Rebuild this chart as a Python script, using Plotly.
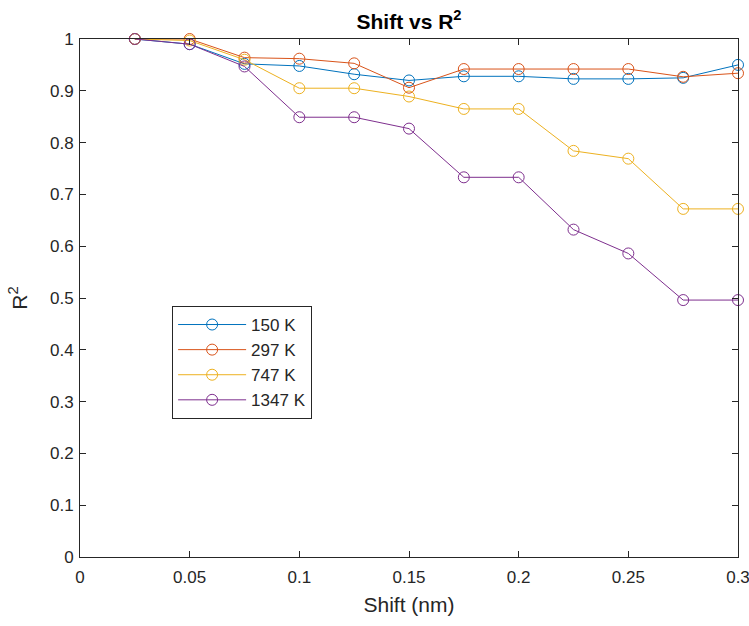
import plotly.graph_objects as go

shift = [0.025, 0.05, 0.075, 0.1, 0.125, 0.15, 0.175, 0.2, 0.225, 0.25, 0.275, 0.3]
r2_150 = [1.0, 0.99, 0.952, 0.948, 0.932, 0.92, 0.928, 0.928, 0.923, 0.923, 0.925, 0.95]
r2_297 = [1.0, 1.0, 0.964, 0.962, 0.953, 0.906, 0.942, 0.942, 0.942, 0.942, 0.927, 0.934]
r2_747 = [1.0, 0.997, 0.96, 0.905, 0.905, 0.889, 0.865, 0.865, 0.784, 0.769, 0.672, 0.672]
r2_1347 = [1.0, 0.99, 0.947, 0.849, 0.849, 0.827, 0.733, 0.733, 0.632, 0.586, 0.496, 0.496]

x_ticks = [0, 0.05, 0.1, 0.15, 0.2, 0.25, 0.3]
x_ticklabels = ["0", "0.05", "0.1", "0.15", "0.2", "0.25", "0.3"]
y_ticks = [0, 0.1, 0.2, 0.3, 0.4, 0.5, 0.6, 0.7, 0.8, 0.9, 1]
y_ticklabels = ["0", "0.1", "0.2", "0.3", "0.4", "0.5", "0.6", "0.7", "0.8", "0.9", "1"]

series = [
    ("150 K", r2_150, "#0072BD"),
    ("297 K", r2_297, "#D95319"),
    ("747 K", r2_747, "#EDB120"),
    ("1347 K", r2_1347, "#7E2F8E"),
]

FONT = "Liberation Sans, Arial, sans-serif"
AX = "#262626"

fig = go.Figure()
for name, vals, col in series:
    fig.add_trace(go.Scatter(
        x=shift, y=vals, name=name, mode="lines+markers", cliponaxis=False,
        line=dict(color=col, width=1),
        marker=dict(symbol="circle-open", size=11, color=col, line=dict(width=1, color=col)),
    ))

axis_common = dict(
    showgrid=False, zeroline=False, showline=True, linecolor=AX, linewidth=1,
    mirror="ticks", ticks="inside", ticklen=6, tickcolor=AX, tickwidth=1,
    tickfont=dict(family=FONT, size=17, color=AX), ticklabeloverflow="allow",
    automargin=False,
)

fig.update_layout(
    width=749, height=626,
    margin=dict(l=80, r=11, t=39, b=69),
    paper_bgcolor="white", plot_bgcolor="white",
    font=dict(family=FONT, color=AX),
    title=dict(text="<b>Shift vs R<sup>2</sup></b>", x=0.5, xanchor="center",
               xref="paper", y=0.966, yref="container", yanchor="middle",
               font=dict(family=FONT, size=21, color="black")),
    xaxis=dict(range=[0, 0.3], tickvals=x_ticks, ticktext=x_ticklabels,
               ticklabelstandoff=5,
               title=dict(text="Shift (nm)", font=dict(family=FONT, size=21, color=AX), standoff=10),
               **axis_common),
    yaxis=dict(range=[0, 1], tickvals=y_ticks, ticktext=y_ticklabels,
               ticklabelstandoff=2,
               title=dict(text="R<sup>2</sup>", font=dict(family=FONT, size=21, color=AX), standoff=16),
               **axis_common),
    legend=dict(x=0.14, y=0.4846, xanchor="left", yanchor="top",
                bgcolor="white", bordercolor=AX, borderwidth=1,
                font=dict(family=FONT, size=17, color=AX),
                itemwidth=68),
    showlegend=True,
)

fig.write_html("out.html")
